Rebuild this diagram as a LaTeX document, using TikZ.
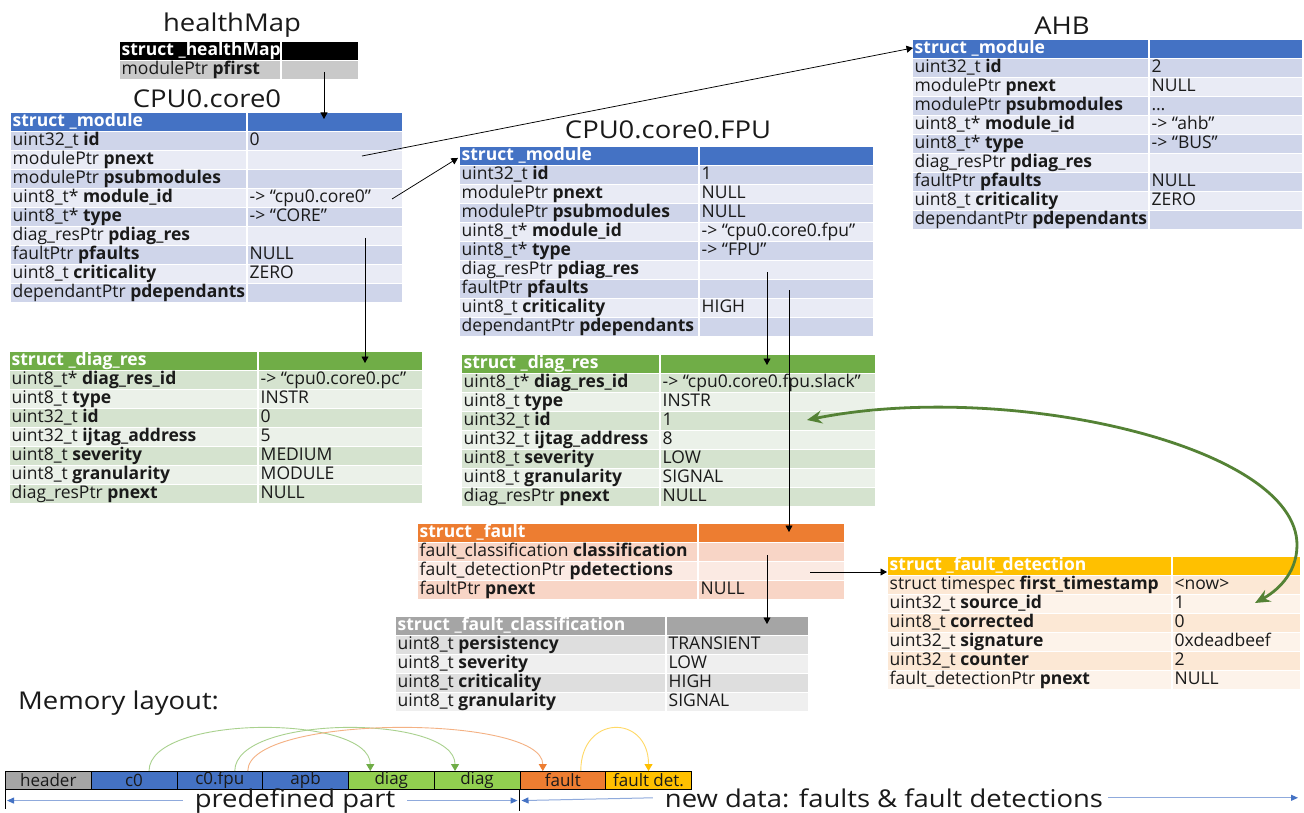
\documentclass[tikz,border=0pt]{standalone}
\usepackage{graphicx}
\usepackage{fontspec}
\setmainfont{Open Sans}
\usetikzlibrary{arrows.meta,calc}

% table palettes: H = header, A/B = alternating bands
\definecolor{modH}{HTML}{4472C4}\definecolor{modA}{HTML}{CFD5EA}\definecolor{modB}{HTML}{E9EBF5}
\definecolor{diaH}{HTML}{70AD47}\definecolor{diaA}{HTML}{D5E3CF}\definecolor{diaB}{HTML}{EBF1E9}
\definecolor{fltH}{HTML}{ED7D31}\definecolor{fltA}{HTML}{F8D5C6}\definecolor{fltB}{HTML}{FBEAE3}
\definecolor{clsH}{HTML}{A5A5A5}\definecolor{clsA}{HTML}{DEDEDE}\definecolor{clsB}{HTML}{EFEFEF}
\definecolor{detH}{HTML}{FFC000}\definecolor{detA}{HTML}{FCE8D5}\definecolor{detB}{HTML}{FDF3EA}
\definecolor{hmH}{HTML}{000000}\definecolor{hmA}{HTML}{C9C9C9}\definecolor{hmB}{HTML}{C9C9C9}
\definecolor{ink}{HTML}{1A1A1A}
\definecolor{linkgreen}{HTML}{548235}
\definecolor{memgrey}{HTML}{A5A5A5}
\definecolor{memgreen}{HTML}{92D050}
\definecolor{arcgreen}{HTML}{A9D18E}
\definecolor{arcorange}{HTML}{F4B183}
\definecolor{arcyellow}{HTML}{FFD966}
\definecolor{spanblue}{HTML}{8FAADC}

\newcommand\tblfont{\fontsize{17.5}{19}\selectfont}
\newcommand\ttl[1]{\scalebox{1.12}[1]{\fontsize{24.5}{28}\selectfont #1}}

\tikzset{
  tcell/.style={anchor=north west, inner xsep=1.5pt, inner ysep=0pt,
    minimum height=17.5pt, text height=12.5pt, text depth=4pt,
    font=\tblfont, text=ink},
  ptr/.style={draw=black, line width=0.75pt, -{Triangle[length=6.5pt,width=7pt]}},
  memcell/.style={anchor=north west, draw=black, line width=0.8pt,
    minimum width=85.75pt, minimum height=17.5pt, inner sep=0pt,
    font=\fontsize{17}{18}\selectfont, text=ink},
  memarc/.style={line width=0.9pt, -{Triangle[length=7pt,width=8pt,color=#1]}},
  span/.style={draw=spanblue, line width=1pt, -{Triangle[length=7pt,width=6pt,color=modH]}},
  title/.style={anchor=base, inner sep=0pt, text=ink},
}

% #1 name, #2 left x, #3 column split x, #4 right x, #5 top y,
% #6 palette, #7 header text, #8 rows type/name/value
\newcommand\sttable[8]{%
  \pgfmathsetmacro\wl{#3-#2-1-3}%
  \pgfmathsetmacro\wr{#4-#3-1-3}%
  \node[tcell, fill=#6H] (#1-h) at (#2,#5) {\makebox[\wl pt][l]{\color{white}\bfseries #7}};
  \node[tcell, fill=#6H] (#1-hv) at (#3+1,#5) {\makebox[\wr pt][l]{}};
  \foreach \ty/\nm/\val [count=\i] in {#8}{%
    \ifodd\i\relax\def\bc{#6A}\else\def\bc{#6B}\fi
    \node[tcell, fill=\bc] (#1-r\i) at (#2,#5+19*\i) {\makebox[\wl pt][l]{\ty\ \textbf{\nm}}};
    \node[tcell, fill=\bc] (#1-v\i) at (#3+1,#5+19*\i) {\makebox[\wr pt][l]{\val}};
  }%
}

\begin{document}
\begin{tikzpicture}[x=1pt,y=-1pt]
\fill[white] (0,0) rectangle (1304,813);
\useasboundingbox (0,0) rectangle (1304,813);

% titles
\node[title] (t-hm)  at (232,32)  {\ttl{healthMap}};
\node[title] (t-c0)  at (207,108) {\ttl{CPU0.core0}};
\node[title] (t-fpu) at (668,139) {\ttl{CPU0.core0.FPU}};
\node[title] (t-ahb) at (1062,35) {\ttl{AHB}};

% structures
\sttable{hm}{120}{281}{358}{42}{hm}{struct \_healthMap}{modulePtr/pfirst/}

\sttable{core0}{11}{247}{402}{113}{mod}{struct \_module}{%
  uint32\_t/id/0, modulePtr/pnext/, modulePtr/psubmodules/,
  uint8\_t*/module\_id/-> “cpu0.core0”, uint8\_t*/type/-> “CORE”,
  diag\_resPtr/pdiag\_res/, faultPtr/pfaults/NULL,
  uint8\_t/criticality/ZERO, dependantPtr/pdependants/}

\sttable{fpu}{460}{699}{873}{147}{mod}{struct \_module}{%
  uint32\_t/id/1, modulePtr/pnext/NULL, modulePtr/psubmodules/NULL,
  uint8\_t*/module\_id/-> “cpu0.core0.fpu”, uint8\_t*/type/-> “FPU”,
  diag\_resPtr/pdiag\_res/, faultPtr/pfaults/,
  uint8\_t/criticality/HIGH, dependantPtr/pdependants/}

\sttable{ahb}{913}{1149}{1302}{40}{mod}{struct \_module}{%
  uint32\_t/id/2, modulePtr/pnext/NULL, modulePtr/psubmodules/…,
  uint8\_t*/module\_id/-> “ahb”, uint8\_t*/type/-> “BUS”,
  diag\_resPtr/pdiag\_res/, faultPtr/pfaults/NULL,
  uint8\_t/criticality/ZERO, dependantPtr/pdependants/}

\sttable{diag1}{10}{258}{422}{352}{dia}{struct \_diag\_res}{%
  uint8\_t*/diag\_res\_id/-> “cpu0.core0.pc”, uint8\_t/type/INSTR,
  uint32\_t/id/0, uint32\_t/ijtag\_address/5, uint8\_t/severity/MEDIUM,
  uint8\_t/granularity/MODULE, diag\_resPtr/pnext/NULL}

\sttable{diag2}{462}{660}{875}{355}{dia}{struct \_diag\_res}{%
  uint8\_t*/diag\_res\_id/-> “cpu0.core0.fpu.slack”, uint8\_t/type/INSTR,
  uint32\_t/id/1, uint32\_t/ijtag\_address/8, uint8\_t/severity/LOW,
  uint8\_t/granularity/SIGNAL, diag\_resPtr/pnext/NULL}

\sttable{fault}{418}{698}{844}{524}{flt}{struct \_fault}{%
  fault\_classification/classification/,
  fault\_detectionPtr/pdetections/, faultPtr/pnext/NULL}

\sttable{fclass}{396}{666}{808}{617}{cls}{struct \_fault\_classification}{%
  uint8\_t/persistency/TRANSIENT, uint8\_t/severity/LOW,
  uint8\_t/criticality/HIGH, uint8\_t/granularity/SIGNAL}

\sttable{fdet}{888}{1172}{1300}{557}{det}{struct \_fault\_detection}{%
  struct timespec/first\_timestamp/<now>, uint32\_t/source\_id/1,
  uint8\_t/corrected/0, uint32\_t/signature/0xdeadbeef,
  uint32\_t/counter/2, fault\_detectionPtr/pnext/NULL}

% pointers
\draw[ptr] ($(hm-v1.north west)+(42,11)$) -- ($(core0-hv.north west)+(76,6)$);
\draw[ptr] ($(core0-v2.north west)+(114,5)$) -- ($(ahb-h.west)+(0,-1)$);
\draw[ptr] ($(core0-v4.north west)+(144,10)$) -- ($(fpu-h.west)+(-2,2)$);
\draw[ptr] ($(core0-v6.north west)+(117,11)$) -- ($(diag1-hv.north west)+(106,11)$);
\draw[ptr] ($(fpu-v6.north west)+(67,11)$) -- ($(diag2-hv.north west)+(106,10)$);
\draw[ptr] ($(fpu-v7.north west)+(89,10)$) -- ($(fault-hv.north west)+(90,8)$);
\draw[ptr] ($(fault-v1.north west)+(68,12)$) -- ($(fclass-hv.north west)+(100,7)$);
\draw[ptr] ($(fault-v2.north west)+(111,10)$) -- ($(fdet-h.north west)+(-1,15)$);

% detection source back to its diagnostic resource
\coordinate (gsrc) at ($(diag2-v3.north west)+(146,8)$);
\coordinate (gturn) at (1297,545);
\coordinate (gdst) at ($(fdet-v2.north west)+(82,8)$);
\draw[draw=linkgreen, line width=2.8pt,
      {Stealth[length=15pt,width=13pt,inset=5pt]}-{Stealth[length=15pt,width=13pt,inset=5pt]}]
  (gsrc) .. controls +(200,-40) and +(0,-100) .. (gturn)
         .. controls +(0,30) and +(20,-11) .. (gdst);

% memory layout
\node[title, anchor=base west] (memt) at (18,709) {\ttl{Memory layout:}};
\node[memcell, fill=memgrey] (mb0) at (5,771) {header};
\node[memcell, fill=modH]   (mb1) at (90.75,771) {c0};
\node[memcell, fill=modH]   (mb2) at (176.5,771) {c0.fpu};
\node[memcell, fill=modH]   (mb3) at (262.25,771) {apb};
\node[memcell, fill=memgreen] (mb4) at (348,771) {diag};
\node[memcell, fill=memgreen] (mb5) at (433.75,771) {diag};
\node[memcell, fill=fltH]   (mb6) at (519.5,771) {fault};
\node[memcell, fill=detH]   (mb7) at (605.25,771) {fault det.};

\draw[memarc=diaH, draw=arcgreen] ($(mb1.north)+(15,0)$) .. controls +(0,-57) and +(0,-57) .. ($(mb4.north)+(-21,0)$);
\draw[memarc=diaH, draw=arcgreen] ($(mb2.north)+(15,0)$) .. controls +(0,-57) and +(0,-57) .. ($(mb5.north)+(-22,0)$);
\draw[memarc=fltH, draw=arcorange] ($(mb2.north)+(28,0)$) .. controls +(0,-57) and +(0,-57) .. ($(mb6.north)+(-20,0)$);
\draw[memarc=detH, draw=arcyellow] ($(mb6.north)+(18,0)$) .. controls +(0,-57) and +(0,-57) .. ($(mb7.north)+(0,0)$);

% region spans
\draw[line width=0.8pt] (mb0.south west) -- ++(0,20);
\draw[line width=0.8pt] (mb6.south west) -- ++(0,22);
\node[title] (pp) at (295,807) {\ttl{predefined part}};
\node[title] (nd) at (884,807) {\ttl{new data: faults \& fault detections}};
\coordinate (rend) at (1298,0);
\draw[span] ($(pp.west)+(-12,0)$) -- ($(mb0.south west |- pp.west)+(2,0)$);
\draw[span] ($(pp.east)+(12,0)$) -- ($(mb6.south west |- pp.west)+(-2,0)$);
\draw[span] ($(nd.west)+(-12,0)$) -- ($(mb6.south west |- pp.west)+(2,0)$);
\draw[span] ($(nd.east)+(5,0)$) -- (rend |- nd.east);
\end{tikzpicture}
\end{document}
